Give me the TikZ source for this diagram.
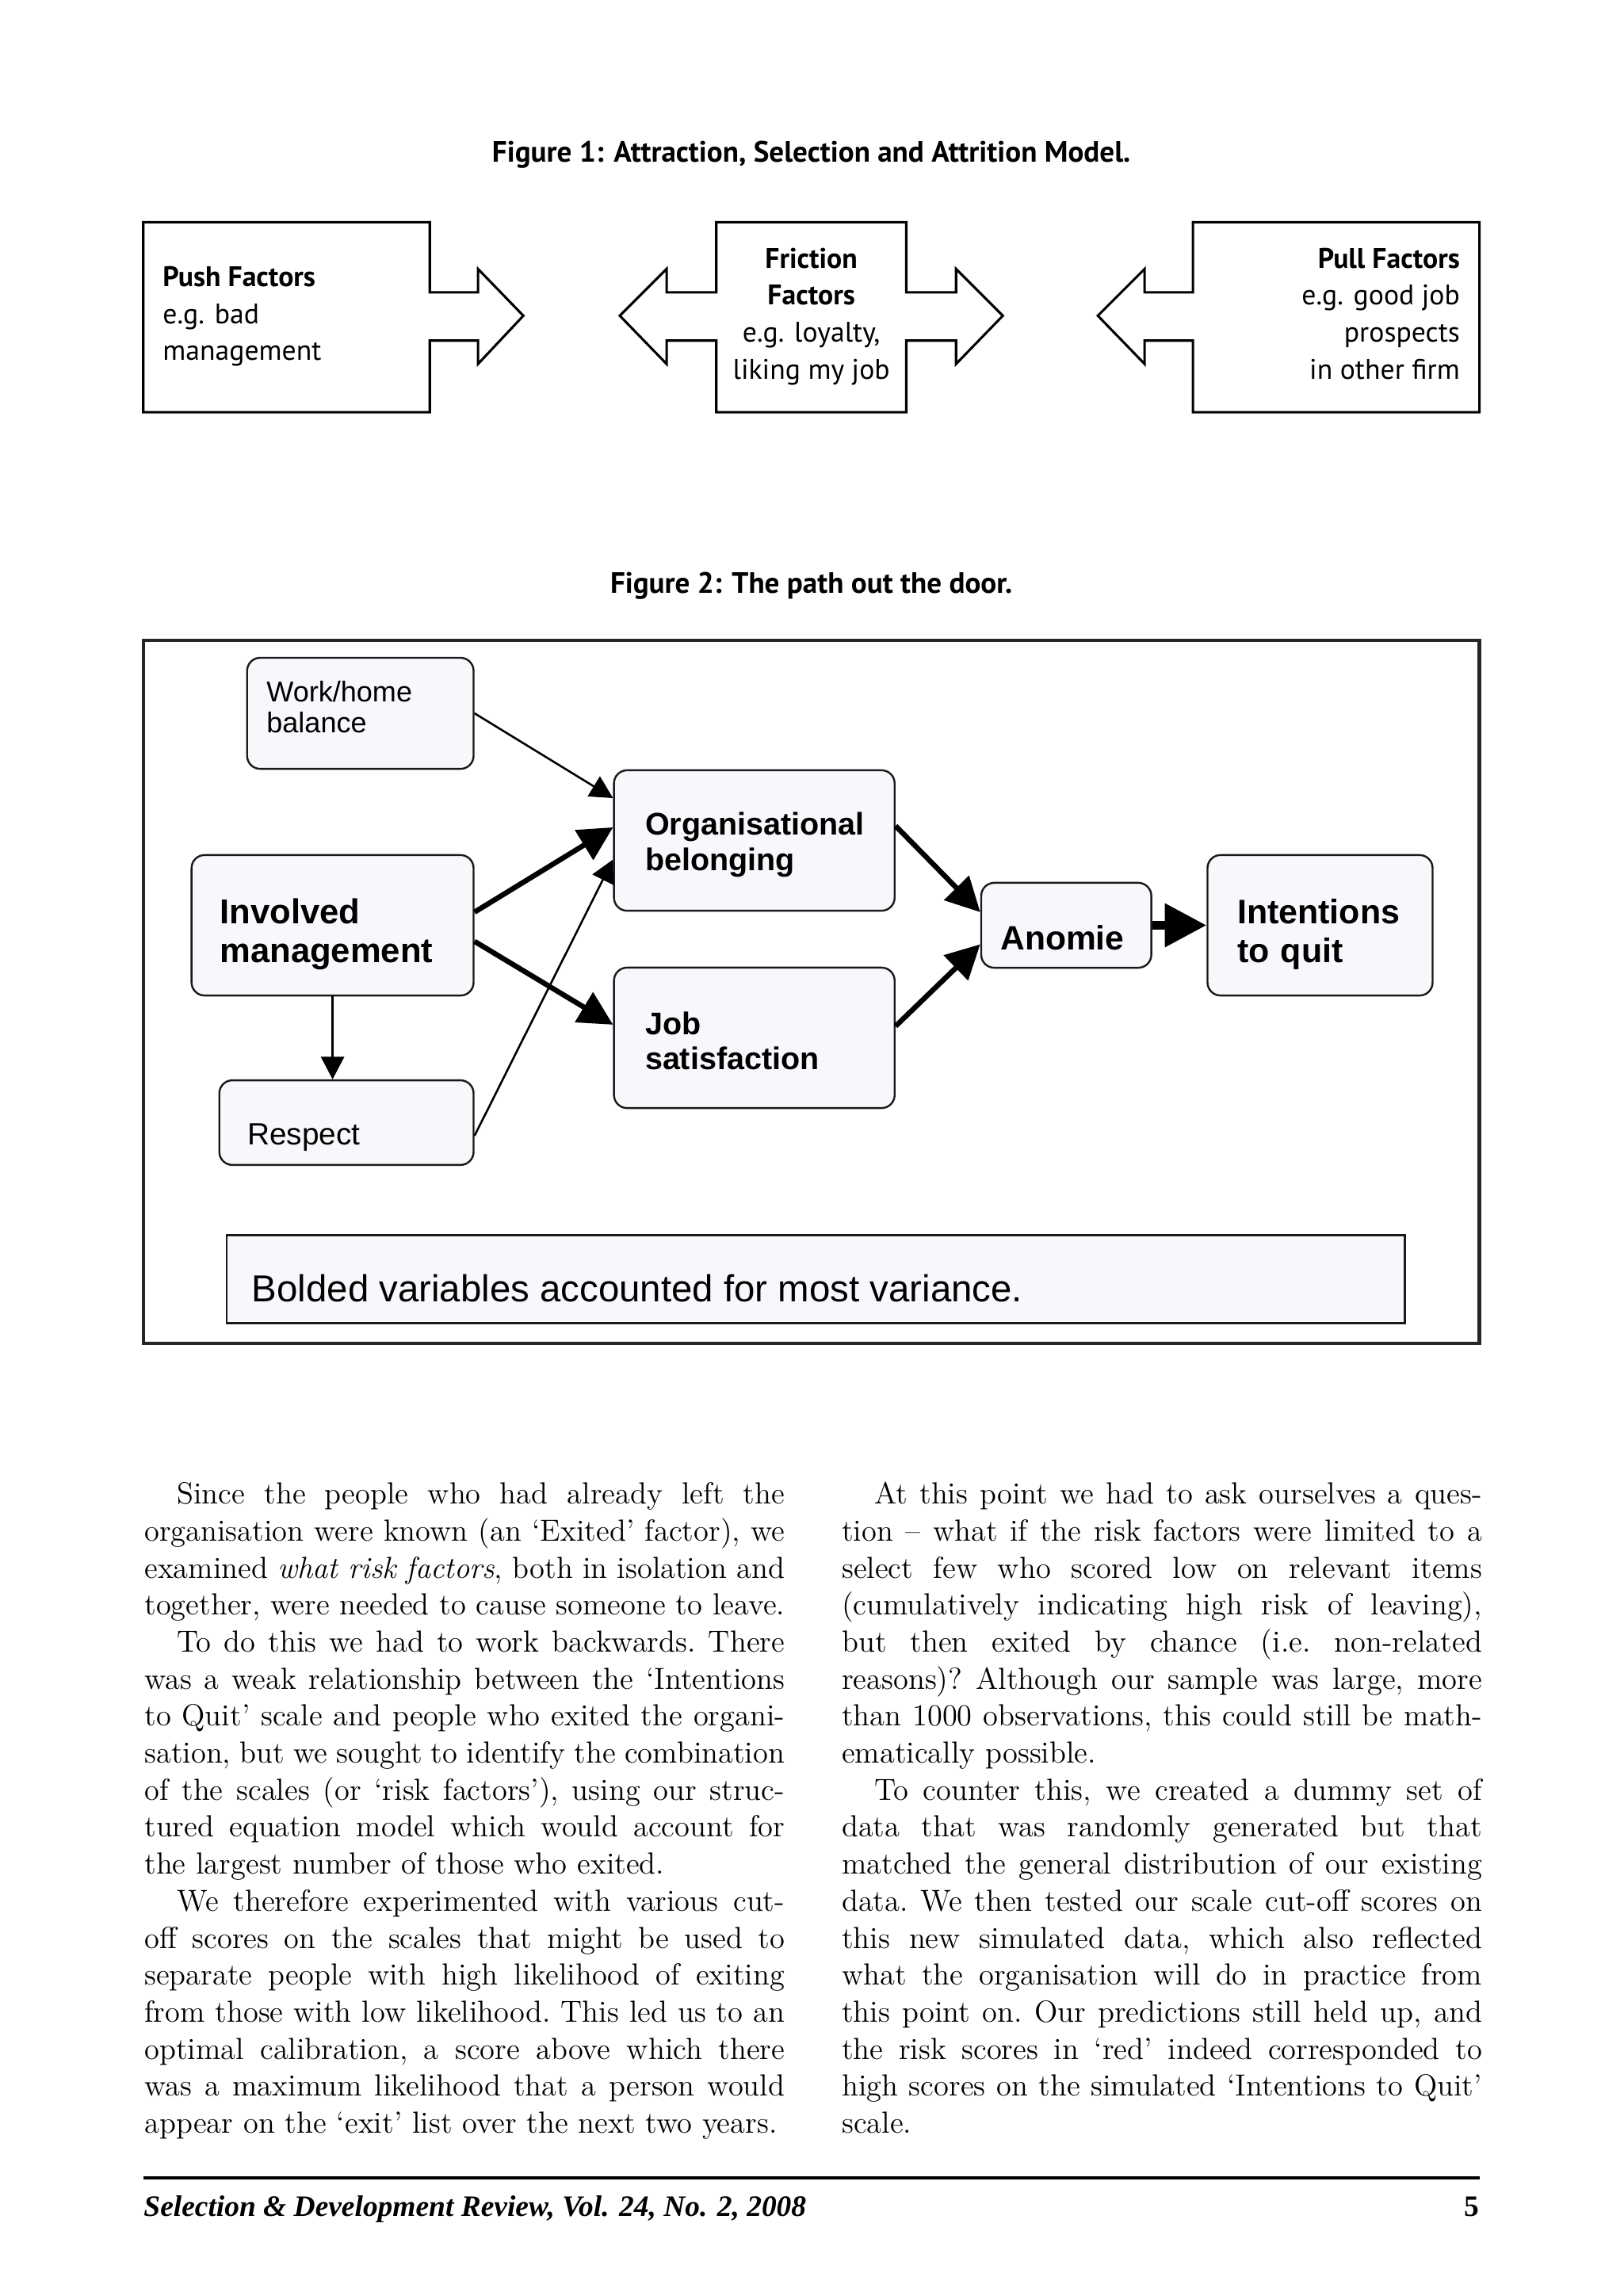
\documentclass[tikz,border=0pt]{standalone}
\usepackage{fontspec}
\usetikzlibrary{arrows.meta,calc}
\newfontfamily\capf{PT Sans}
\newfontfamily\arf{Liberation Sans}
\newfontfamily\tmf{Liberation Serif}
\newfontfamily\bodyf{Latin Modern Roman}
\definecolor{boxfill}{RGB}{248,248,252}
\newcommand\jl[1]{\makebox[\linewidth][s]{\spaceskip=0pt\xspaceskip=0pt #1}\\}
\newcommand\ind{\hspace*{12pt}}
\begin{document}
\begin{tikzpicture}[x=0.537pt,y=-0.537pt,
  fone/.style={draw=black,line width=0.9pt,line join=miter},
  fr/.style={inner sep=0pt,font=\capf\fontsize{10.4}{12}\selectfont},
  fb/.style={inner sep=0pt,font=\capf\bfseries\fontsize{10.4}{12}\selectfont},
  capt/.style={inner sep=0pt,anchor=base,font=\capf\bfseries\fontsize{10.8}{12}\selectfont},
  vbox/.style={draw=black!90,line width=0.7pt,rounded corners=4.8pt,fill=boxfill,inner sep=0pt},
  vtxt/.style={inner sep=0pt,anchor=base west,align=left,text width=110pt},
  thinarr/.style={-{Triangle[length=8.3pt,width=8.5pt]},line width=0.75pt},
  thickarr/.style={-{Triangle[length=12.5pt,width=12.5pt]},line width=1.9pt},
  bodycol/.style={anchor=base west,inner sep=0pt,text width=235.2pt,align=left,font=\bodyf\fontsize{11.2}{13.59}\selectfont\frenchspacing},
]
\path[use as bounding box] (0,0) rectangle (1110.4,1568);

% ---------- Figure 1 ----------
\node[capt] (cap1) at (555,111) {Figure 1: Attraction, Selection and Attrition Model.};

\draw[fone] (98,152) -- (294,152) -- (294,200) -- (327,200) -- (327,184) -- (358,216)
  -- (327,249) -- (327,233) -- (294,233) -- (294,282) -- (98,282) -- cycle;
\draw[fone] (490,152) -- (620,152) -- (620,200) -- (654,200) -- (654,184) -- (686,216)
  -- (654,249) -- (654,233) -- (620,233) -- (620,282) -- (490,282) -- (490,233)
  -- (456,233) -- (456,249) -- (424,216) -- (456,184) -- (456,200) -- (490,200) -- cycle;
\draw[fone] (1012,152) -- (816,152) -- (816,200) -- (783,200) -- (783,184) -- (751,216)
  -- (783,249) -- (783,233) -- (816,233) -- (816,282) -- (1012,282) -- cycle;

\node[fb,anchor=base west] (push1) at (111,196) {Push Factors};
\node[fr,anchor=base west] (push2) at (111,221.3) {e.g. bad};
\node[fr,anchor=base west] (push3) at (111,246.6) {management};

\node[fb,anchor=base] (fri1) at (555,183.4) {Friction};
\node[fb,anchor=base] (fri2) at (555,208.6) {Factors};
\node[fr,anchor=base] (fri3) at (555,234) {e.g. loyalty,};
\node[fr,anchor=base] (fri4) at (555,259.3) {liking my job};

\node[fb,anchor=base east] (pul1) at (999,183.4) {Pull Factors};
\node[fr,anchor=base east] (pul2) at (999,208.6) {e.g. good job};
\node[fr,anchor=base east] (pul3) at (999,234) {prospects};
\node[fr,anchor=base east] (pul4) at (999,259.3) {in other firm};

% ---------- Figure 2 ----------
\node[capt] (cap2) at (555,406) {Figure 2: The path out the door.};
\draw[line width=1.3pt,black!85] (98,438) rectangle (1012,919);

\node[vbox,minimum width=83.2pt,minimum height=40.8pt] (wh) at (246.5,488) {};
\node[vbox,minimum width=103.1pt,minimum height=51.6pt] (org) at (516,575) {};
\node[vbox,minimum width=103.6pt,minimum height=51.6pt] (inv) at (227.5,633) {};
\node[vbox,minimum width=103.1pt,minimum height=51.6pt] (job) at (516,710) {};
\node[vbox,minimum width=62.5pt,minimum height=31.2pt] (ano) at (729.4,633) {};
\node[vbox,minimum width=82.7pt,minimum height=51.6pt] (int) at (903,633) {};
\node[vbox,minimum width=93.4pt,minimum height=31.1pt] (res) at (237,768) {};
\node[draw=black!90,line width=0.8pt,fill=boxfill,inner sep=0pt,minimum width=432.8pt,minimum height=32.2pt] (note) at (558,875) {};

\node[vtxt,font=\arf\fontsize{10.5}{11.4}\selectfont] (whT) at (182,480.1) {Work/home\\balance};
\node[vtxt,font=\arf\bfseries\fontsize{11.5}{13.1}\selectfont] (orgT) at (441,571.3) {Organisational\\belonging};
\node[vtxt,font=\arf\bfseries\fontsize{12.7}{14.2}\selectfont] (invT) at (150,632.1) {Involved\\management};
\node[vtxt,font=\arf\bfseries\fontsize{11.5}{12.7}\selectfont] (jobT) at (441,708) {Job\\satisfaction};
\node[vtxt,font=\arf\bfseries\fontsize{12.4}{14}\selectfont] (anoT) at (684,649.7) {Anomie};
\node[vtxt,font=\arf\bfseries\fontsize{12.5}{14.2}\selectfont] (intT) at (846,632.1) {Intentions\\to quit};
\node[vtxt,font=\arf\fontsize{11.3}{13}\selectfont] (resT) at (169,783) {Respect};
\node[inner sep=0pt,anchor=base west,font=\arf\fontsize{13.8}{15}\selectfont] (noteT) at (172,890.7) {Bolded variables accounted for most variance.};

\draw[thinarr] (wh.east) -- ($(org.west)+(0,-29)$);
\draw[thickarr] ($(inv.east)+(0,-9)$) -- ($(org.west)+(0,-9)$);
\draw[thickarr] ($(inv.east)+(0,11)$) -- ($(job.west)+(0,-9)$);
\draw[thinarr] (inv.south) -- (inv.south |- res.north);
\draw[thinarr] ($(res.east)+(0,9)$) -- ($(org.west)+(0,13)$);
\draw[thickarr] ($(org.east)+(0,-10)$) -- ($(ano.west)+(0,-9)$);
\draw[thickarr] ($(job.east)+(0,-8)$) -- ($(ano.west)+(0,13)$);
\draw[-{Triangle[length=15.3pt,width=15.3pt]},line width=3.2pt] (ano.east) -- (int.west);

% ---------- Body text ----------
\node[bodycol] (colL) at (98.5,1029) {%
\jl{\ind Since the people who had already left the}
\jl{organisation were known (an ‘Exited’ factor), we}
\jl{examined \textit{what risk factors}, both in isolation and}
\jl{together, were needed to cause someone to leave.}
\jl{\ind To do this we had to work backwards. There}
\jl{was a weak relationship between the ‘Intentions}
\jl{to Quit’ scale and people who exited the organi-}
\jl{sation, but we sought to identify the combination}
\jl{of the scales (or ‘risk factors’), using our struc-}
\jl{tured equation model which would account for}
the largest number of those who exited.\\
\jl{\ind We therefore experimented with various cut-}
\jl{off scores on the scales that might be used to}
\jl{separate people with high likelihood of exiting}
\jl{from those with low likelihood. This led us to an}
\jl{optimal calibration, a score above which there}
\jl{was a maximum likelihood that a person would}
appear on the ‘exit’ list over the next two years.};

\node[bodycol] (colR) at (575.5,1029) {%
\jl{\ind At this point we had to ask ourselves a ques-}
\jl{tion – what if the risk factors were limited to a}
\jl{select few who scored low on relevant items}
\jl{(cumulatively indicating high risk of leaving),}
\jl{but then exited by chance (i.e. non-related}
\jl{reasons)? Although our sample was large, more}
\jl{than 1000 observations, this could still be math-}
ematically possible.\\
\jl{\ind To counter this, we created a dummy set of}
\jl{data that was randomly generated but that}
\jl{matched the general distribution of our existing}
\jl{data. We then tested our scale cut-off scores on}
\jl{this new simulated data, which also reflected}
\jl{what the organisation will do in practice from}
\jl{this point on. Our predictions still held up, and}
\jl{the risk scores in ‘red’ indeed corresponded to}
\jl{high scores on the simulated ‘Intentions to Quit’}
scale.};

% ---------- Footer ----------
\draw[line width=1.35pt] (98,1490) -- (1012,1490);
\node[inner sep=0pt,anchor=base west,font=\tmf\bfseries\itshape\fontsize{10.9}{12}\selectfont] (foot) at (98,1516) {Selection \& Development Review, Vol. 24, No. 2, 2008};
\node[inner sep=0pt,anchor=base east,font=\tmf\bfseries\fontsize{10.9}{12}\selectfont] (pg) at (1012,1516) {5};
\end{tikzpicture}
\end{document}
